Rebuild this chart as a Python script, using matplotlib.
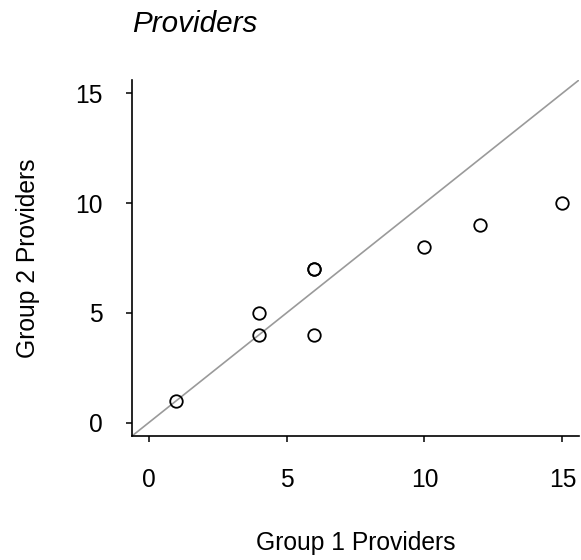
import matplotlib
matplotlib.use("Agg")
import matplotlib.pyplot as plt

plt.rcParams["font.family"] = ["Liberation Sans", "DejaVu Sans"]

# provider counts per site
group1 = [1, 4, 4, 6, 6, 6, 10, 12, 15]
group2 = [1, 5, 4, 7, 7, 4, 8, 9, 10]
ticks = [0, 5, 10, 15]
lims = (-0.6, 15.6)

W, H = 581, 560
fig = plt.figure(figsize=(W / 100, H / 100), dpi=100)
ax = fig.add_axes([132 / W, (H - 436) / H, (579 - 132) / W, (436 - 80) / H])

# identity line y = x
ax.plot(lims, lims, color="#9a9a9a", lw=1.2, zorder=1)
ax.plot(group1, group2, "o", ms=9, mfc="none", mec="black", mew=1.3,
        zorder=2, clip_on=False)

ax.set_xlim(lims)
ax.set_ylim(lims)
ax.set_xticks(ticks)
ax.set_yticks(ticks)
ax.spines["top"].set_visible(False)
ax.spines["right"].set_visible(False)
for s in ("left", "bottom"):
    ax.spines[s].set_linewidth(1.2)
ax.tick_params(axis="both", direction="out", length=4.3, width=1.1,
               labelsize=17.7, colors="black")
ax.tick_params(axis="x", pad=19)
ax.tick_params(axis="y", pad=17)

fig.text(355.5 / W, (H - 550) / H, "Group 1 Providers", fontsize=17.7,
         ha="center", va="baseline")
fig.text(35 / W, (H - 258) / H, "Group 2 Providers", fontsize=17.7,
         rotation=90, rotation_mode="anchor", ha="center", va="baseline")
fig.text(132 / W, (H - 32) / H, "Providers", fontsize=21.3, fontstyle="italic",
         ha="left", va="baseline")

fig.savefig("out.png", dpi=100)
